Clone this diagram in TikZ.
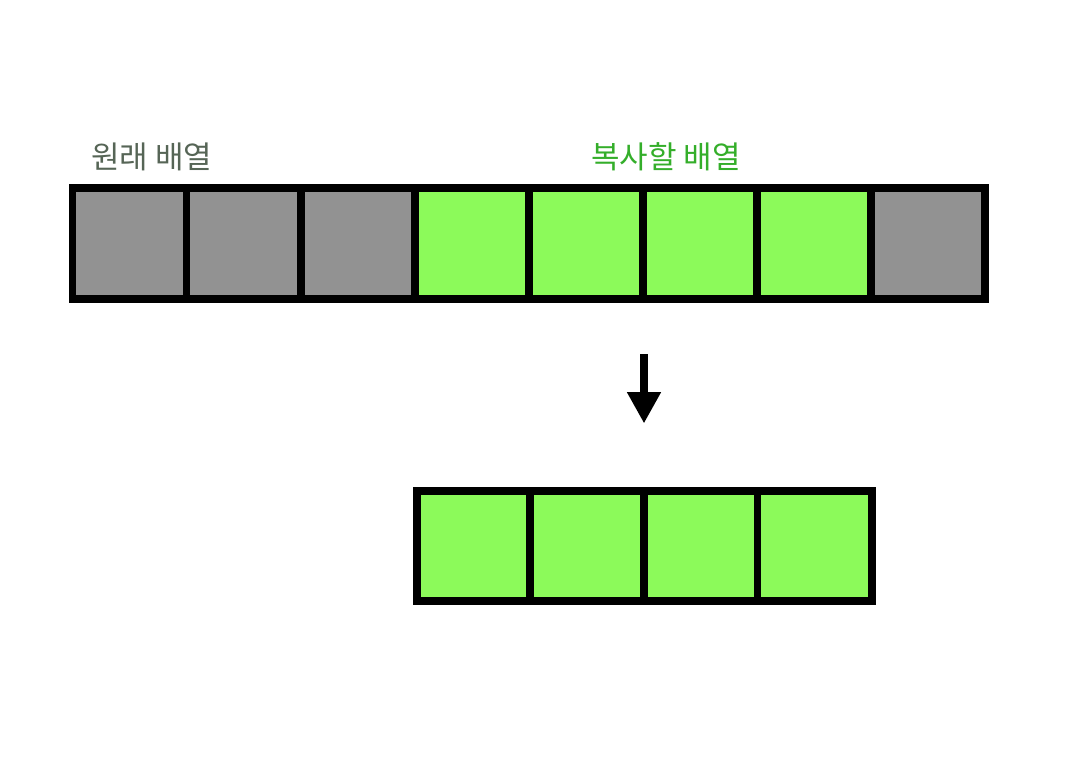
\documentclass[tikz,border=0pt]{standalone}
\usepackage{fontspec}
\newfontfamily\kr{Noto Sans CJK KR}
\definecolor{cellgray}{HTML}{929292}
\definecolor{cellgreen}{HTML}{8CFA5A}
\definecolor{txtgray}{HTML}{566556}
\definecolor{txtgreen}{HTML}{34AE2A}
\usetikzlibrary{arrows.meta}
\begin{document}
\begin{tikzpicture}[x=1pt,y=-1pt,
  cellbox/.style={draw=black,line width=7.8pt,minimum width=114.1pt,minimum height=110.7pt,inner sep=0pt,outer sep=0pt,anchor=north west},
  lbl/.style={font=\kr\fontsize{31}{36}\selectfont,inner sep=0pt,anchor=west}]
\useasboundingbox (0,0) rectangle (1087,763);
\foreach \i/\c in {0/cellgray,1/cellgray,2/cellgray,3/cellgreen,4/cellgreen,5/cellgreen,6/cellgreen,7/cellgray}{
  \node[cellbox,fill=\c] (t\i) at ({72.4+\i*114.1},188) {};
}
\foreach \i in {0,...,3}{
  \node[cellbox,fill=cellgreen] (b\i) at ({416.7+\i*113.6},490.6) {};
}
\node[lbl,text=txtgray] (l1) at (91,157) {원래 배열};
\node[lbl,text=txtgreen] (l2) at (591,157) {복사할 배열};
\coordinate (as) at (644,354);
\coordinate (ae) at (644,423.5);
\draw[line width=8pt,-{Triangle[width=32pt,length=31.5pt]}] (as) -- (ae);
\end{tikzpicture}
\end{document}
